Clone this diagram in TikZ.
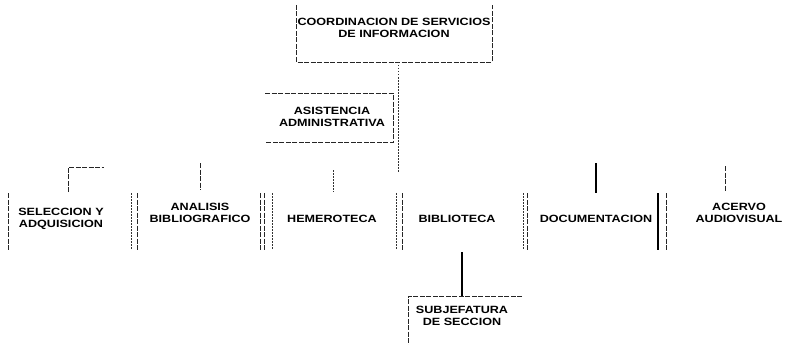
\documentclass[tikz,border=0pt]{standalone}
\usepackage{fontspec}
\setmainfont[FakeStretch=1.2]{Liberation Sans}
\begin{document}
\begin{tikzpicture}[x=1pt,y=-1pt,
  txt/.style={font=\bfseries\fontsize{10.5}{12}\selectfont, align=center, inner sep=0pt, text=black},
  frameline/.style={draw=black!85, line width=0.9pt, dash pattern=on 5pt off 1.5pt},
  dotline/.style={draw=black!80, line width=0.9pt, dash pattern=on 1.5pt off 1.5pt},
  solidline/.style={draw=black, line width=1.2pt}]
\useasboundingbox (0,0) rectangle (787,345);

% ---------- top box ----------
\coordinate (cTL) at (296,5);
\coordinate (cBL) at (296,62);
\coordinate (cBR) at (492,62);
\coordinate (cTR) at (492,5);
\node[txt] (coord) at (394,27.5) {COORDINACION DE SERVICIOS\\DE INFORMACION};
\draw[frameline] (cTL) -- (cBL) -- (cBR) -- (cTR);

% ---------- asistencia ----------
\coordinate (aTL) at (265,93);
\coordinate (aTR) at (393,93);
\coordinate (aBR) at (393,142);
\coordinate (aBL) at (265,142);
\node[txt] (asis) at (332,117) {ASISTENCIA\\ADMINISTRATIVA};
\draw[frameline] (aTL) -- (aTR) -- (aBR) -- (aBL);

% ---------- main trunk ----------
\coordinate (trunkTop) at (398,62);
\coordinate (trunkBot) at (398,172);
\draw[dotline] (trunkTop) -- (trunkBot);

% ---------- bottom row texts ----------
\node[txt] (sel) at (61,219) {SELECCION Y\\ADQUISICION};
\node[txt] (ana) at (200,213) {ANALISIS\\BIBLIOGRAFICO};
\node[txt] (hem) at (332,219) {HEMEROTECA};
\node[txt] (bib) at (457,219) {BIBLIOTECA};
\node[txt] (doc) at (596,219) {DOCUMENTACION};
\node[txt] (ace) at (739,213) {ACERVO\\AUDIOVISUAL};

% ---------- bottom row separators ----------
\foreach \x/\n in {8/s1,131/s2,137/s3,260/s4,264/s5,272/s6,396/s7,402/s8,523/s9,527/s10,658/s11,666/s12}{
  \coordinate (\n t) at (\x,193);
  \coordinate (\n b) at (\x,250);
}
\draw[frameline] (s1t) -- (s1b);
\draw[dotline] (s2t) -- (s2b);
\draw[frameline] (s3t) -- (s3b);
\draw[frameline] (s4t) -- (s4b);
\draw[frameline] (s5t) -- (s5b);
\draw[dotline] (s6t) -- (s6b);
\draw[dotline] (s7t) -- (s7b);
\draw[frameline] (s8t) -- (s8b);
\draw[dotline] (s9t) -- (s9b);
\draw[frameline] (s10t) -- (s10b);
\draw[solidline] (s11t) -- (s11b);
\draw[frameline] (s12t) -- (s12b);

% ---------- stubs above columns ----------
\coordinate (selA) at (68,192);
\coordinate (selB) at (68,167);
\coordinate (selC) at (104,167);
\draw[frameline] (selA) -- (selB) -- (selC);
\coordinate (anaA) at (200,163);
\coordinate (anaB) at (200,190);
\draw[frameline] (anaA) -- (anaB);
\coordinate (hemA) at (333,170);
\coordinate (hemB) at (333,192);
\draw[dotline] (hemA) -- (hemB);
\coordinate (docA) at (596,163);
\coordinate (docB) at (596,193);
\draw[solidline] (docA) -- (docB);
\coordinate (aceA) at (725,166);
\coordinate (aceB) at (725,192);
\draw[frameline] (aceA) -- (aceB);

% ---------- subjefatura ----------
\node[txt] (sub) at (462,316) {SUBJEFATURA\\DE SECCION};
\coordinate (bibDown) at (462,252);
\coordinate (subTop) at (462,296);
\draw[solidline] (bibDown) -- (subTop);
\coordinate (sTL) at (408,296);
\coordinate (sTR) at (522,296);
\coordinate (sBL) at (408,345);
\draw[frameline] (sTR) -- (sTL) -- (sBL);
\end{tikzpicture}
\end{document}
